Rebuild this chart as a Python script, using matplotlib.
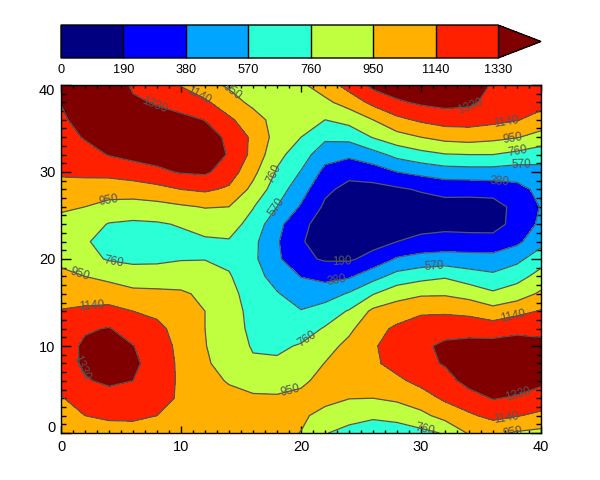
import numpy as np
import matplotlib
matplotlib.use('Agg')
import matplotlib.pyplot as plt
from matplotlib.colors import ListedColormap, BoundaryNorm
from matplotlib.ticker import MultipleLocator
from matplotlib.transforms import ScaledTranslation

plt.rcParams['font.family'] = ['Liberation Sans', 'DejaVu Sans']

# grid, one list per x, y runs 0,2,...,40
xs = np.arange(0, 41, 2)
ys = np.arange(0, 41, 2)
levels = [0, 190, 380, 570, 760, 950, 1140, 1330]
colors = ['#000080', '#0000ff', '#00a5ff', '#2affd5', '#bfff40', '#ffb000', '#ff2000']
over_color = '#800000'

x00 = [1000, 1060, 1125, 1190, 1240, 1250, 1220, 1150, 1060, 990, 910, 860, 890, 980, 1075, 1165, 1210, 1255, 1300, 1335, 1400]
x02 = [1040, 1140, 1235, 1315, 1360, 1360, 1310, 1175, 1060, 950, 810, 780, 835, 950, 1070, 1175, 1260, 1345, 1400, 1450, 1500]
x04 = [1065, 1170, 1265, 1360, 1400, 1385, 1340, 1190, 1055, 900, 745, 690, 750, 885, 1045, 1190, 1340, 1420, 1470, 1500, 1510]
x06 = [1065, 1175, 1255, 1330, 1370, 1335, 1245, 1140, 1000, 850, 720, 670, 730, 870, 1050, 1230, 1390, 1450, 1430, 1370, 1290]
x08 = [1080, 1140, 1190, 1220, 1240, 1230, 1185, 1100, 990, 850, 725, 660, 740, 890, 1080, 1290, 1410, 1450, 1410, 1310, 1240]
x10 = [1000, 1050, 1120, 1115, 1105, 1090, 1070, 1030, 975, 860, 750, 705, 775, 925, 1140, 1345, 1410, 1430, 1380, 1250, 1130]
x12 = [1000, 1030, 1035, 990, 965, 955, 950, 950, 915, 835, 755, 735, 825, 960, 1170, 1360, 1400, 1400, 1325, 1170, 1020]
x14 = [1000, 1000, 985, 940, 905, 880, 860, 845, 815, 775, 725, 745, 840, 950, 1110, 1240, 1320, 1300, 1170, 1040, 920]
x16 = [1005, 995, 965, 910, 790, 740, 710, 700, 680, 650, 610, 620, 690, 770, 900, 1000, 1085, 1100, 1040, 900, 840]
x18 = [1000, 1000, 970, 880, 785, 730, 670, 620, 585, 490, 415, 400, 440, 570, 660, 740, 815, 880, 870, 830, 815]
x20 = [945, 985, 990, 920, 840, 775, 680, 580, 470, 375, 230, 205, 230, 360, 460, 560, 660, 760, 815, 860, 920]
x22 = [770, 885, 1010, 1000, 955, 880, 775, 665, 475, 330, 170, 110, 120, 160, 225, 330, 450, 610, 760, 910, 1040]
x24 = [700, 830, 955, 1020, 1030, 1000, 910, 775, 590, 355, 165, 90, 70, 80, 140, 240, 420, 625, 825, 1025, 1215]
x26 = [660, 790, 950, 1060, 1110, 1120, 1080, 990, 750, 500, 250, 130, 75, 70, 130, 285, 500, 770, 950, 1190, 1380]
x28 = [660, 825, 985, 1105, 1200, 1220, 1170, 1050, 875, 640, 400, 190, 95, 60, 160, 380, 625, 880, 1095, 1300, 1450]
x30 = [710, 900, 1060, 1190, 1280, 1300, 1240, 1110, 925, 700, 445, 250, 110, 90, 210, 430, 700, 950, 1170, 1360, 1500]
x32 = [775, 1020, 1170, 1265, 1345, 1360, 1270, 1110, 930, 740, 460, 270, 130, 120, 250, 480, 750, 1010, 1220, 1390, 1500]
x34 = [970, 1110, 1260, 1390, 1440, 1390, 1260, 1090, 880, 660, 450, 265, 120, 115, 250, 490, 760, 1030, 1220, 1370, 1500]
x36 = [990, 1195, 1340, 1430, 1470, 1400, 1240, 1020, 790, 610, 440, 270, 110, 110, 270, 490, 760, 1000, 1190, 1260, 1300]
x38 = [930, 1150, 1310, 1420, 1470, 1380, 1300, 1080, 860, 690, 520, 340, 265, 250, 320, 470, 710, 960, 1150, 1230, 1280]
x40 = [900, 1100, 1250, 1370, 1430, 1370, 1290, 1155, 980, 830, 680, 510, 415, 390, 430, 510, 650, 880, 1070, 1200, 1270]

z = np.array([x00, x02, x04, x06, x08, x10, x12, x14, x16, x18, x20,
              x22, x24, x26, x28, x30, x32, x34, x36, x38, x40]).T

cmap = ListedColormap(colors)
cmap.set_over(over_color)
norm = BoundaryNorm(levels, cmap.N)

fig = plt.figure(figsize=(6, 4.8), dpi=100)
ax = fig.add_axes([61/600, 1-433/480, 480/600, 348/480])
cax = fig.add_axes([61/600, 1-58/480, 480/600, 33/480])

cf = ax.contourf(xs, ys, z, levels=levels, cmap=cmap, norm=norm, extend='max')
cs = ax.contour(xs, ys, z, levels=levels[1:], colors='#555555', linewidths=0.9)

ax.clabel(cs, inline=False, fmt='%d', fontsize=8.5, colors='#555555',
          manual=[(8, 38.3), (11.5, 38.8), (14.3, 39.3), (3.9, 27), (18, 29.6), (18, 26),
                  (34, 37.7), (37.1, 35.6), (37.6, 34), (38, 32.6), (38.4, 31), (36.6, 29.3),
                  (23.4, 19.6), (23, 17.1), (31.1, 19.3), (4.4, 19.7), (1.6, 18.2), (2.5, 15.1),
                  (1.7, 7.5), (20.5, 10.7), (19.1, 5.1), (37.7, 13.2), (38.2, 4), (37.1, 1.8),
                  (37.6, 0.4), (30.4, 0.8)])

ax.set_xlim(0, 40)
ax.set_ylim(0, 40)
ax.xaxis.set_major_locator(MultipleLocator(10))
ax.xaxis.set_minor_locator(MultipleLocator(1))
ax.yaxis.set_major_locator(MultipleLocator(10))
ax.yaxis.set_minor_locator(MultipleLocator(1))
ax.tick_params(axis='x', which='major', direction='in', top=True, length=5, width=1, labelsize=10.5, pad=5)
ax.tick_params(axis='x', which='minor', direction='in', top=True, length=2.5, width=1)
ax.tick_params(axis='y', which='major', direction='in', right=True, length=7.2, width=1, labelsize=10.5, pad=4)
ax.tick_params(axis='y', which='minor', direction='in', right=True, length=3.6, width=1)
for s in ax.spines.values():
    s.set_linewidth(1)

# the end labels on the y axis sit a little inside the axis range
fig.canvas.draw()
ylabs = ax.get_yticklabels()
for lab in ylabs:
    if lab.get_text() == '0':
        lab.set_transform(lab.get_transform() + ScaledTranslation(0, 5/72, fig.dpi_scale_trans))
    if lab.get_text() == '40':
        lab.set_transform(lab.get_transform() + ScaledTranslation(0, -3/72, fig.dpi_scale_trans))

cb = fig.colorbar(cf, cax=cax, orientation='horizontal', extend='max',
                  extendfrac=0.0984, drawedges=True, ticks=levels)
cb.ax.tick_params(length=0, labelsize=9.2, pad=4)
cb.dividers.set_color('black')
cb.dividers.set_linewidth(1)
cb.outline.set_linewidth(1)

fig.savefig('out.png', dpi=100)
